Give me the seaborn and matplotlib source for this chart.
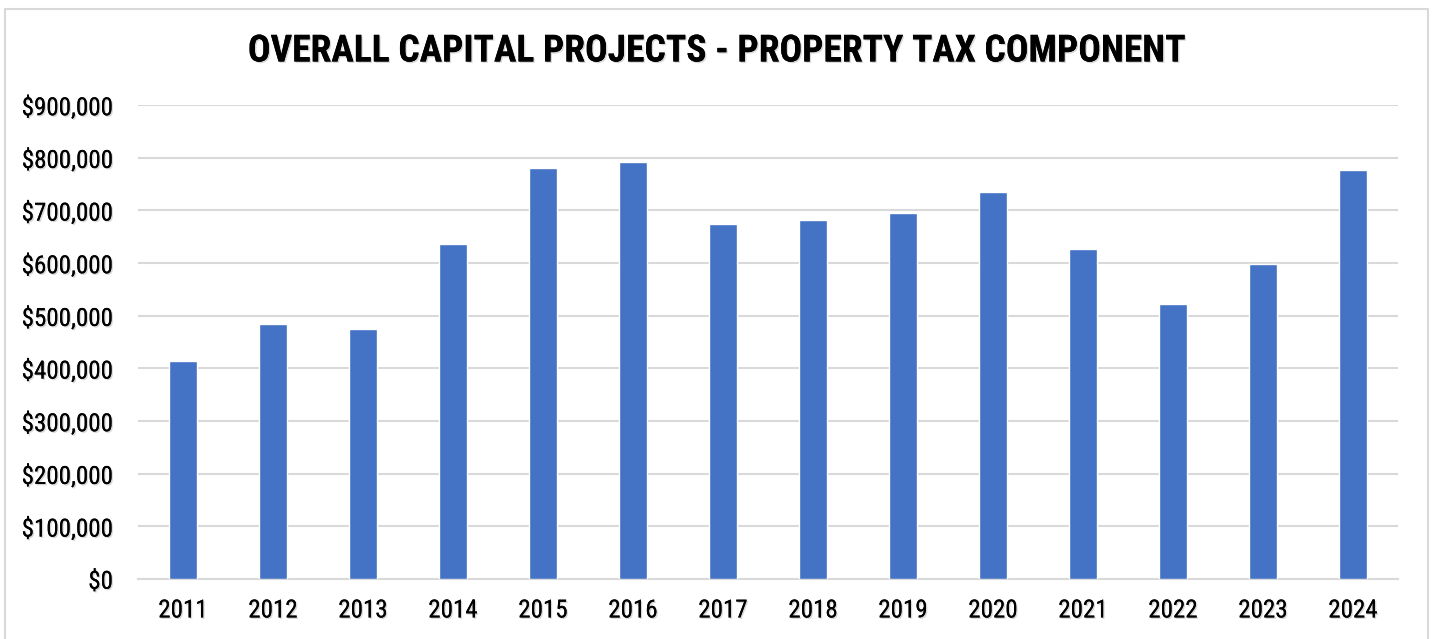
import matplotlib
matplotlib.use("Agg")
import matplotlib.pyplot as plt
import matplotlib.patheffects as pe
from matplotlib import font_manager
from matplotlib.patches import Rectangle
from matplotlib.ticker import FuncFormatter, MultipleLocator
import seaborn as sns
import pandas as pd

years = ["2011", "2012", "2013", "2014", "2015", "2016", "2017",
         "2018", "2019", "2020", "2021", "2022", "2023", "2024"]
property_tax = [414000, 484000, 474000, 636000, 781000, 792000, 675000,
                681000, 695000, 735000, 626000, 523000, 598000, 777000]

title = "OVERALL CAPITAL PROJECTS - PROPERTY TAX COMPONENT"

# Prefer a narrow sans face when one is installed
available = {f.name for f in font_manager.fontManager.ttflist}
family = "Liberation Sans"
for cand in ["Liberation Sans Narrow", "Arial Narrow", "Roboto Condensed"]:
    if cand in available:
        family = cand
        break
is_narrow = family != "Liberation Sans"

sns.set_theme(style="white")
plt.rcParams["font.family"] = [family, "DejaVu Sans"]

tick_size = 18 if is_narrow else 15.5
title_size = 27 if is_narrow else 22

shadow = [pe.withSimplePatchShadow(offset=(1, -1), shadow_rgbFace="#b0b0b0", alpha=0.5),
          pe.Normal()]

df = pd.DataFrame({"year": years, "amount": property_tax})

fig = plt.figure(figsize=(14.33, 6.39), dpi=100)
ax = fig.add_axes([138 / 1433, 1 - 579 / 639, 1260 / 1433, (579 - 105) / 639])

sns.barplot(data=df, x="year", y="amount", color="#4472C4", saturation=1,
            width=0.31, ax=ax, zorder=3)

ax.set_ylim(0, 900000)
ax.set_xlim(-0.5, len(years) - 0.5)
ax.yaxis.set_major_locator(MultipleLocator(100000))
ax.yaxis.set_major_formatter(FuncFormatter(lambda v, _: f"${v:,.0f}"))
ax.grid(axis="y", color="#d9d9d9", linewidth=1.5, zorder=0)
ax.set_axisbelow(True)
for side in ["top", "right", "left"]:
    ax.spines[side].set_visible(False)
ax.spines["bottom"].set_color("#d9d9d9")
ax.spines["bottom"].set_linewidth(1.5)
ax.tick_params(axis="both", length=0, labelsize=tick_size, colors="black")
ax.tick_params(axis="y", pad=18)
ax.tick_params(axis="x", pad=14)
ax.set_xlabel("")
ax.set_ylabel("")
for lbl in ax.get_xticklabels() + ax.get_yticklabels():
    lbl.set_path_effects(shadow)

fig.text(0.5, 1 - 51 / 639, title, ha="center", va="center",
         fontsize=title_size, fontweight="bold", color="black",
         path_effects=shadow)

fig.patches.append(Rectangle((5 / 1433, -0.01), 1423 / 1433, 1 - 9 / 639 + 0.01,
                             transform=fig.transFigure, fill=False,
                             edgecolor="#d9d9d9", linewidth=1.5))

fig.savefig("out.png", dpi=100)
